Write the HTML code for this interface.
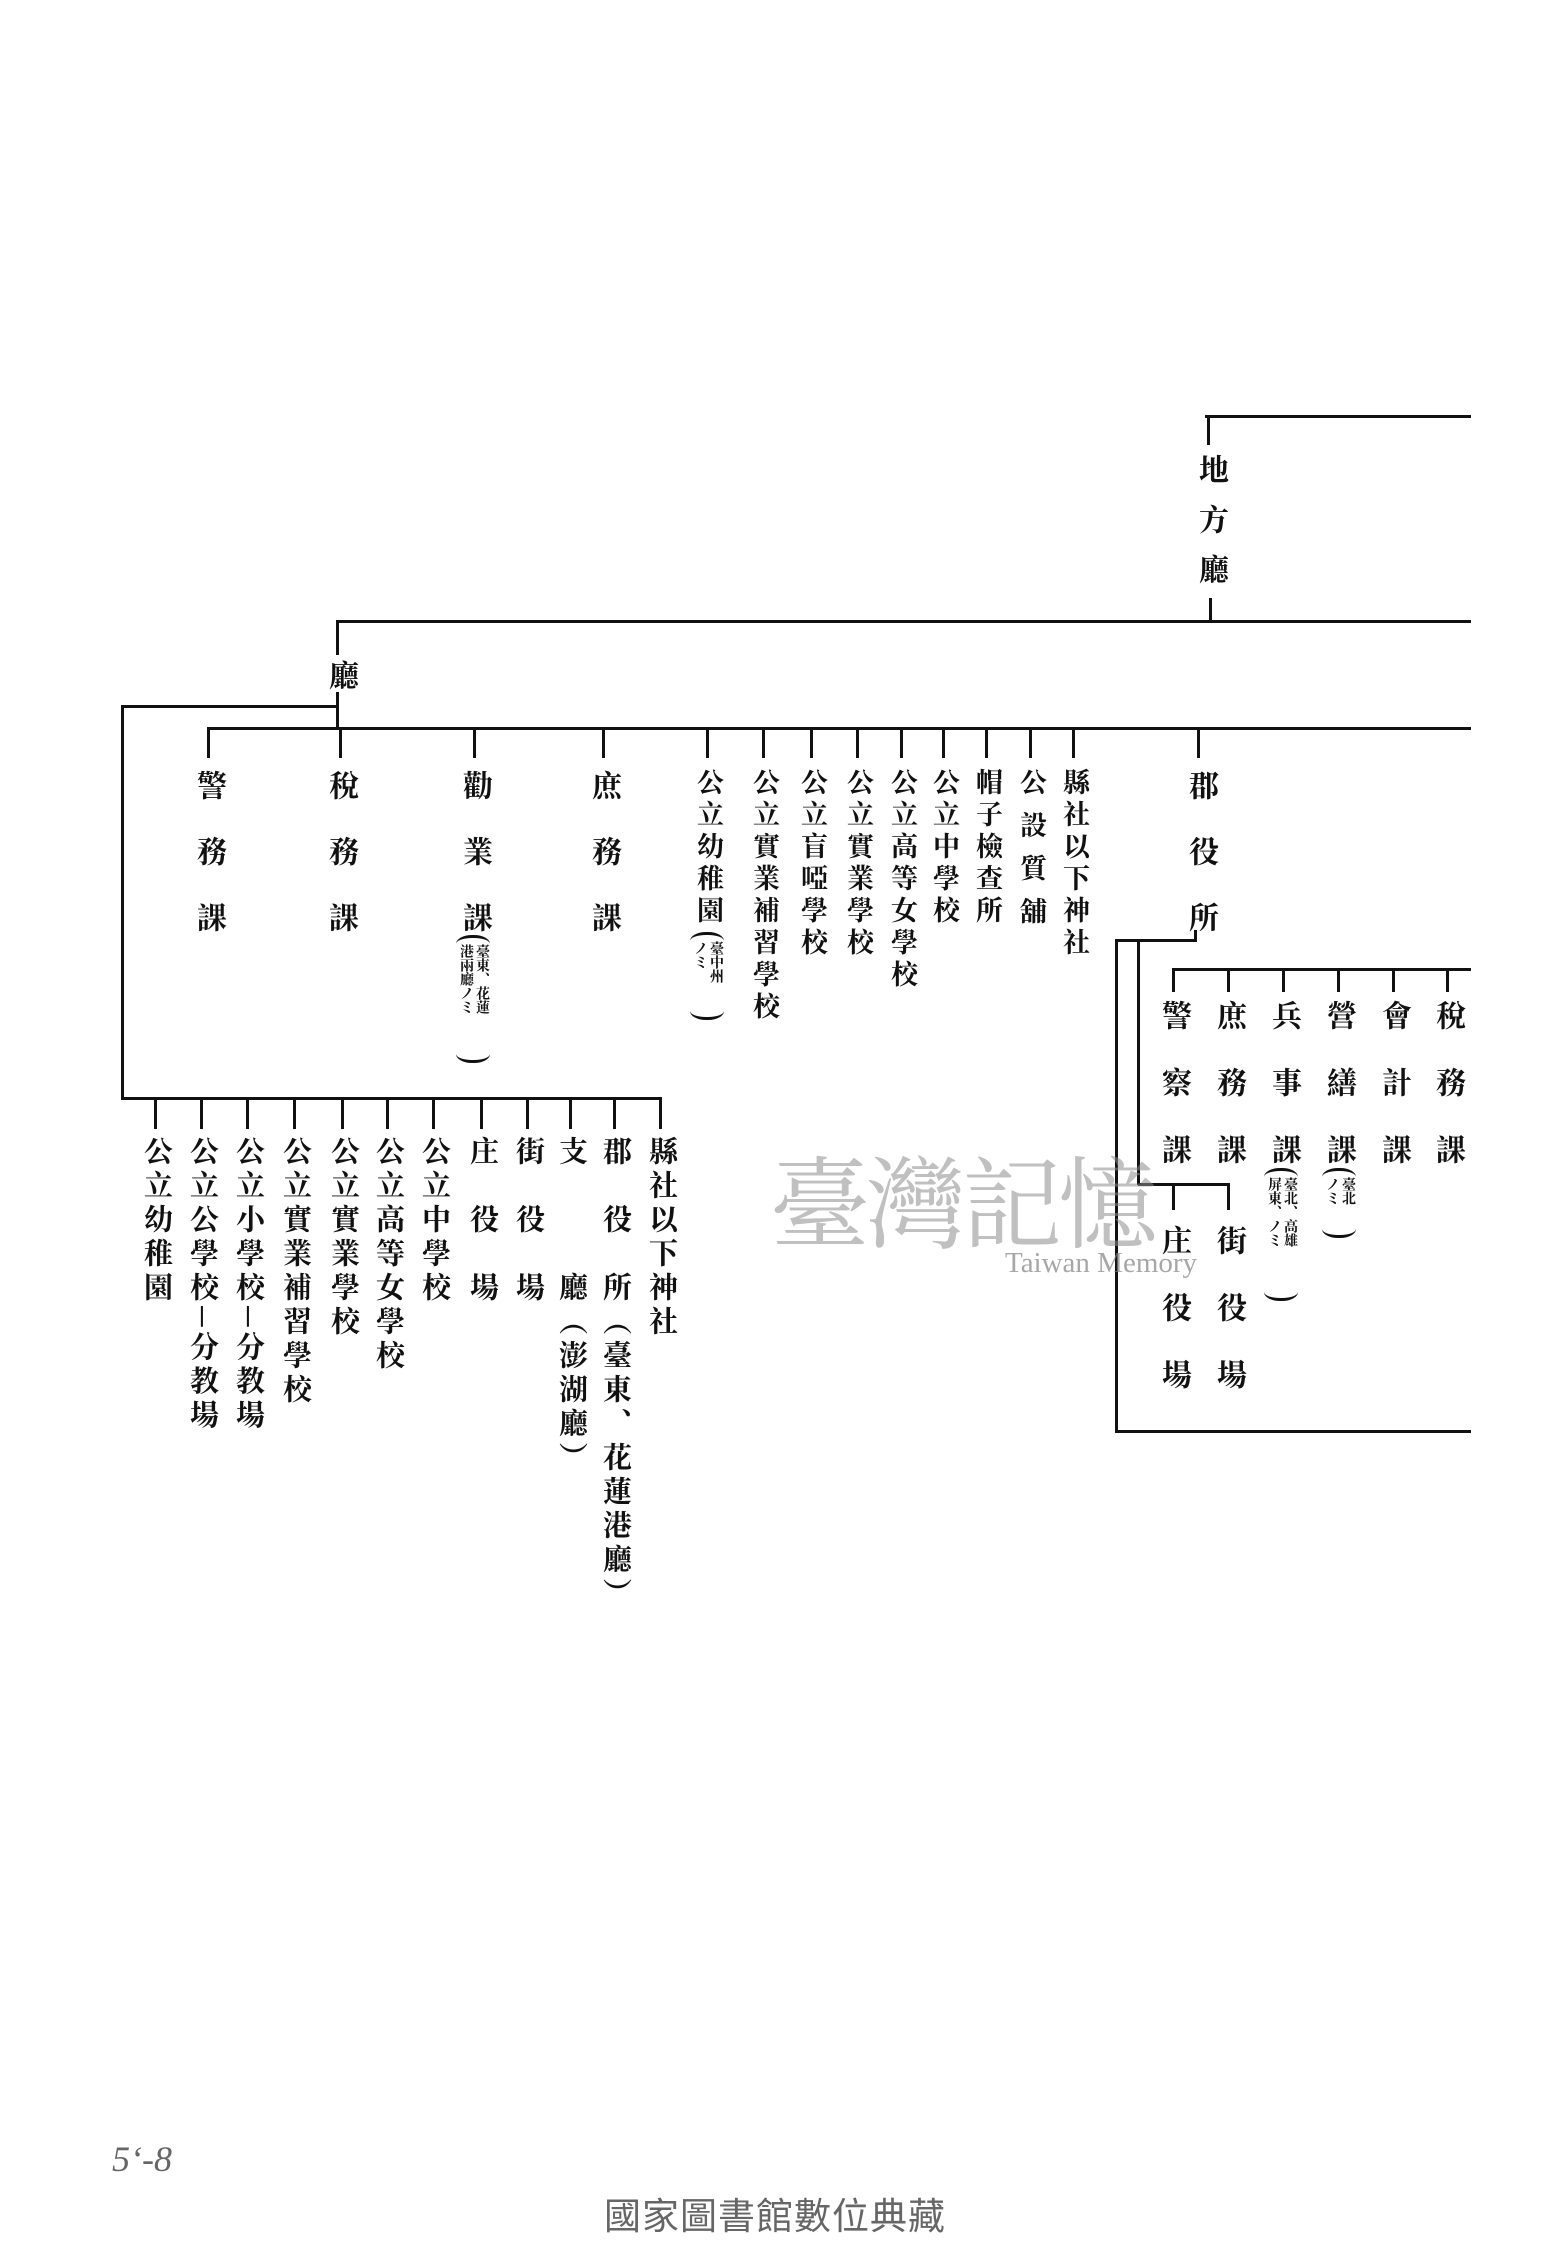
<!DOCTYPE html>
<html><head><meta charset="utf-8">
<style>
html,body{margin:0;padding:0;background:#fff;}
body{width:1550px;height:2250px;position:relative;overflow:hidden;}
.h{position:absolute;height:3px;background:#111;}
.vl{position:absolute;width:3px;background:#111;}
.v{position:absolute;writing-mode:vertical-rl;font-family:"Liberation Serif","Noto Serif CJK SC",serif;font-weight:bold;line-height:1;white-space:nowrap;color:#111;}
.big{font-size:30px;letter-spacing:36px;}
.dt{font-size:27px;letter-spacing:5px;}
.db{font-size:29px;letter-spacing:5px;}
.sub{font-size:30px;letter-spacing:37px;}
.ann{position:absolute;writing-mode:vertical-rl;font-family:"Liberation Serif","Noto Serif CJK SC",serif;font-weight:bold;font-size:14px;line-height:16px;color:#111;border-top:3px solid #111;border-bottom:3px solid #111;border-radius:16px/9px;padding:6px 1px;white-space:nowrap;}
</style></head><body>

<!-- lines -->
<div class="h" style="left:1205px;top:415px;width:266px"></div>
<div class="vl" style="left:1207px;top:415px;height:30px"></div>
<div class="vl" style="left:1209px;top:598px;height:23px"></div>
<div class="h" style="left:337px;top:620px;width:1134px"></div>
<div class="vl" style="left:336px;top:620px;height:35px"></div>
<div class="vl" style="left:336px;top:692px;height:36px"></div>
<div class="h" style="left:122px;top:705px;width:215px"></div>
<div class="vl" style="left:121px;top:705px;height:395px"></div>
<div class="h" style="left:122px;top:1097px;width:540px"></div>
<div class="h" style="left:208px;top:727px;width:1263px"></div>

<!-- top ticks -->
<div class="vl" style="left:207px;top:727px;height:31px"></div>
<div class="vl" style="left:339px;top:727px;height:31px"></div>
<div class="vl" style="left:473px;top:727px;height:31px"></div>
<div class="vl" style="left:602px;top:727px;height:31px"></div>
<div class="vl" style="left:706px;top:727px;height:31px"></div>
<div class="vl" style="left:762px;top:727px;height:31px"></div>
<div class="vl" style="left:810px;top:727px;height:31px"></div>
<div class="vl" style="left:856px;top:727px;height:31px"></div>
<div class="vl" style="left:900px;top:727px;height:31px"></div>
<div class="vl" style="left:942px;top:727px;height:31px"></div>
<div class="vl" style="left:985px;top:727px;height:31px"></div>
<div class="vl" style="left:1029px;top:727px;height:31px"></div>
<div class="vl" style="left:1072px;top:727px;height:31px"></div>
<div class="vl" style="left:1197px;top:727px;height:31px"></div>

<!-- 郡役所 bracket -->
<div class="vl" style="left:1194px;top:930px;height:12px"></div>
<div class="h" style="left:1116px;top:939px;width:81px"></div>
<div class="vl" style="left:1115px;top:939px;height:494px"></div>
<div class="h" style="left:1116px;top:1430px;width:355px"></div>
<div class="vl" style="left:1137px;top:942px;height:243px"></div>
<div class="h" style="left:1138px;top:1183px;width:92px"></div>
<div class="vl" style="left:1172px;top:1183px;height:27px"></div>
<div class="vl" style="left:1227px;top:1183px;height:27px"></div>
<div class="h" style="left:1172px;top:968px;width:299px"></div>
<div class="vl" style="left:1172px;top:968px;height:24px"></div>
<div class="vl" style="left:1227px;top:968px;height:24px"></div>
<div class="vl" style="left:1282px;top:968px;height:24px"></div>
<div class="vl" style="left:1337px;top:968px;height:24px"></div>
<div class="vl" style="left:1392px;top:968px;height:24px"></div>
<div class="vl" style="left:1446px;top:968px;height:24px"></div>

<!-- bottom ticks -->
<div class="vl" style="left:154px;top:1097px;height:32px"></div>
<div class="vl" style="left:200px;top:1097px;height:32px"></div>
<div class="vl" style="left:246px;top:1097px;height:32px"></div>
<div class="vl" style="left:293px;top:1097px;height:32px"></div>
<div class="vl" style="left:341px;top:1097px;height:32px"></div>
<div class="vl" style="left:386px;top:1097px;height:32px"></div>
<div class="vl" style="left:432px;top:1097px;height:32px"></div>
<div class="vl" style="left:480px;top:1097px;height:32px"></div>
<div class="vl" style="left:526px;top:1097px;height:32px"></div>
<div class="vl" style="left:569px;top:1097px;height:32px"></div>
<div class="vl" style="left:613px;top:1097px;height:32px"></div>
<div class="vl" style="left:659px;top:1097px;height:32px"></div>

<!-- 地方廳 / 廳 -->
<div class="v" style="left:1195px;top:454px;font-size:30px;letter-spacing:20px">地方廳</div>
<div class="v" style="left:325px;top:660px;font-size:30px">廳</div>

<!-- top big columns -->
<div class="v big" style="left:193px;top:770px">警務課</div>
<div class="v big" style="left:325px;top:770px">稅務課</div>
<div class="v big" style="left:459px;top:770px">勸業課</div>
<div class="ann" style="left:456px;top:935px;height:110px">臺東、花蓮<br>港兩廳ノミ</div>
<div class="v big" style="left:588px;top:770px">庶務課</div>
<div class="v big" style="left:1185px;top:770px">郡役所</div>

<!-- top dense columns -->
<div class="v dt" style="left:694px;top:768px">公立幼稚園</div>
<div class="ann" style="left:690px;top:932px;height:70px">臺中州<br>ノミ</div>
<div class="v dt" style="left:750px;top:768px">公立實業補習學校</div>
<div class="v dt" style="left:798px;top:768px">公立盲啞學校</div>
<div class="v dt" style="left:844px;top:768px">公立實業學校</div>
<div class="v dt" style="left:888px;top:768px">公立高等女學校</div>
<div class="v dt" style="left:930px;top:768px">公立中學校</div>
<div class="v dt" style="left:973px;top:768px">帽子檢查所</div>
<div class="v dt" style="left:1017px;top:768px;letter-spacing:16px">公設質舖</div>
<div class="v dt" style="left:1060px;top:768px">縣社以下神社</div>

<!-- 郡役所 sub columns -->
<div class="v sub" style="left:1158px;top:1000px">警察課</div>
<div class="v sub" style="left:1213px;top:1000px">庶務課</div>
<div class="v sub" style="left:1268px;top:1000px">兵事課</div>
<div class="ann" style="left:1264px;top:1168px;height:115px">臺北、高雄<br>屏東、ノミ</div>
<div class="v sub" style="left:1323px;top:1000px">營繕課</div>
<div class="ann" style="left:1322px;top:1168px;height:52px">臺北<br>ノミ</div>
<div class="v sub" style="left:1378px;top:1000px">會計課</div>
<div class="v sub" style="left:1432px;top:1000px">稅務課</div>
<div class="v sub" style="left:1158px;top:1225px">庄役場</div>
<div class="v sub" style="left:1213px;top:1225px">街役場</div>

<!-- bottom columns -->
<div class="v db" style="left:141px;top:1136px">公立幼稚園</div>
<div class="v db" style="left:187px;top:1136px">公立公學校─分教場</div>
<div class="v db" style="left:233px;top:1136px">公立小學校─分教場</div>
<div class="v db" style="left:280px;top:1136px">公立實業補習學校</div>
<div class="v db" style="left:328px;top:1136px">公立實業學校</div>
<div class="v db" style="left:373px;top:1136px">公立高等女學校</div>
<div class="v db" style="left:419px;top:1136px">公立中學校</div>
<div class="v db" style="left:467px;top:1136px">庄　役　場</div>
<div class="v db" style="left:513px;top:1136px">街　役　場</div>
<div class="v db" style="left:556px;top:1136px">支　　　廳（澎湖廳）</div>
<div class="v db" style="left:600px;top:1136px">郡　役　所（臺東、花蓮港廳）</div>
<div class="v db" style="left:646px;top:1136px">縣社以下神社</div>

<!-- watermark -->
<div style="position:absolute;left:770px;top:1125px;font-family:'Noto Serif CJK SC',serif;font-size:100px;color:rgba(140,140,140,0.55);letter-spacing:-4px;white-space:nowrap">臺灣記憶</div>
<div style="position:absolute;left:1005px;top:1247px;font-family:'Liberation Serif',serif;font-size:29px;color:rgba(130,130,130,0.7);white-space:nowrap">Taiwan Memory</div>

<div style="position:absolute;left:112px;top:2138px;font-family:'Liberation Serif',serif;font-size:36px;color:#666;font-style:italic">5ʻ‐8</div>
<div style="position:absolute;left:0;width:1550px;top:2186px;text-align:center;font-family:'Liberation Sans','Noto Sans CJK TC',sans-serif;font-size:37px;color:#666;letter-spacing:1px">國家圖書館數位典藏</div>
</body></html>
